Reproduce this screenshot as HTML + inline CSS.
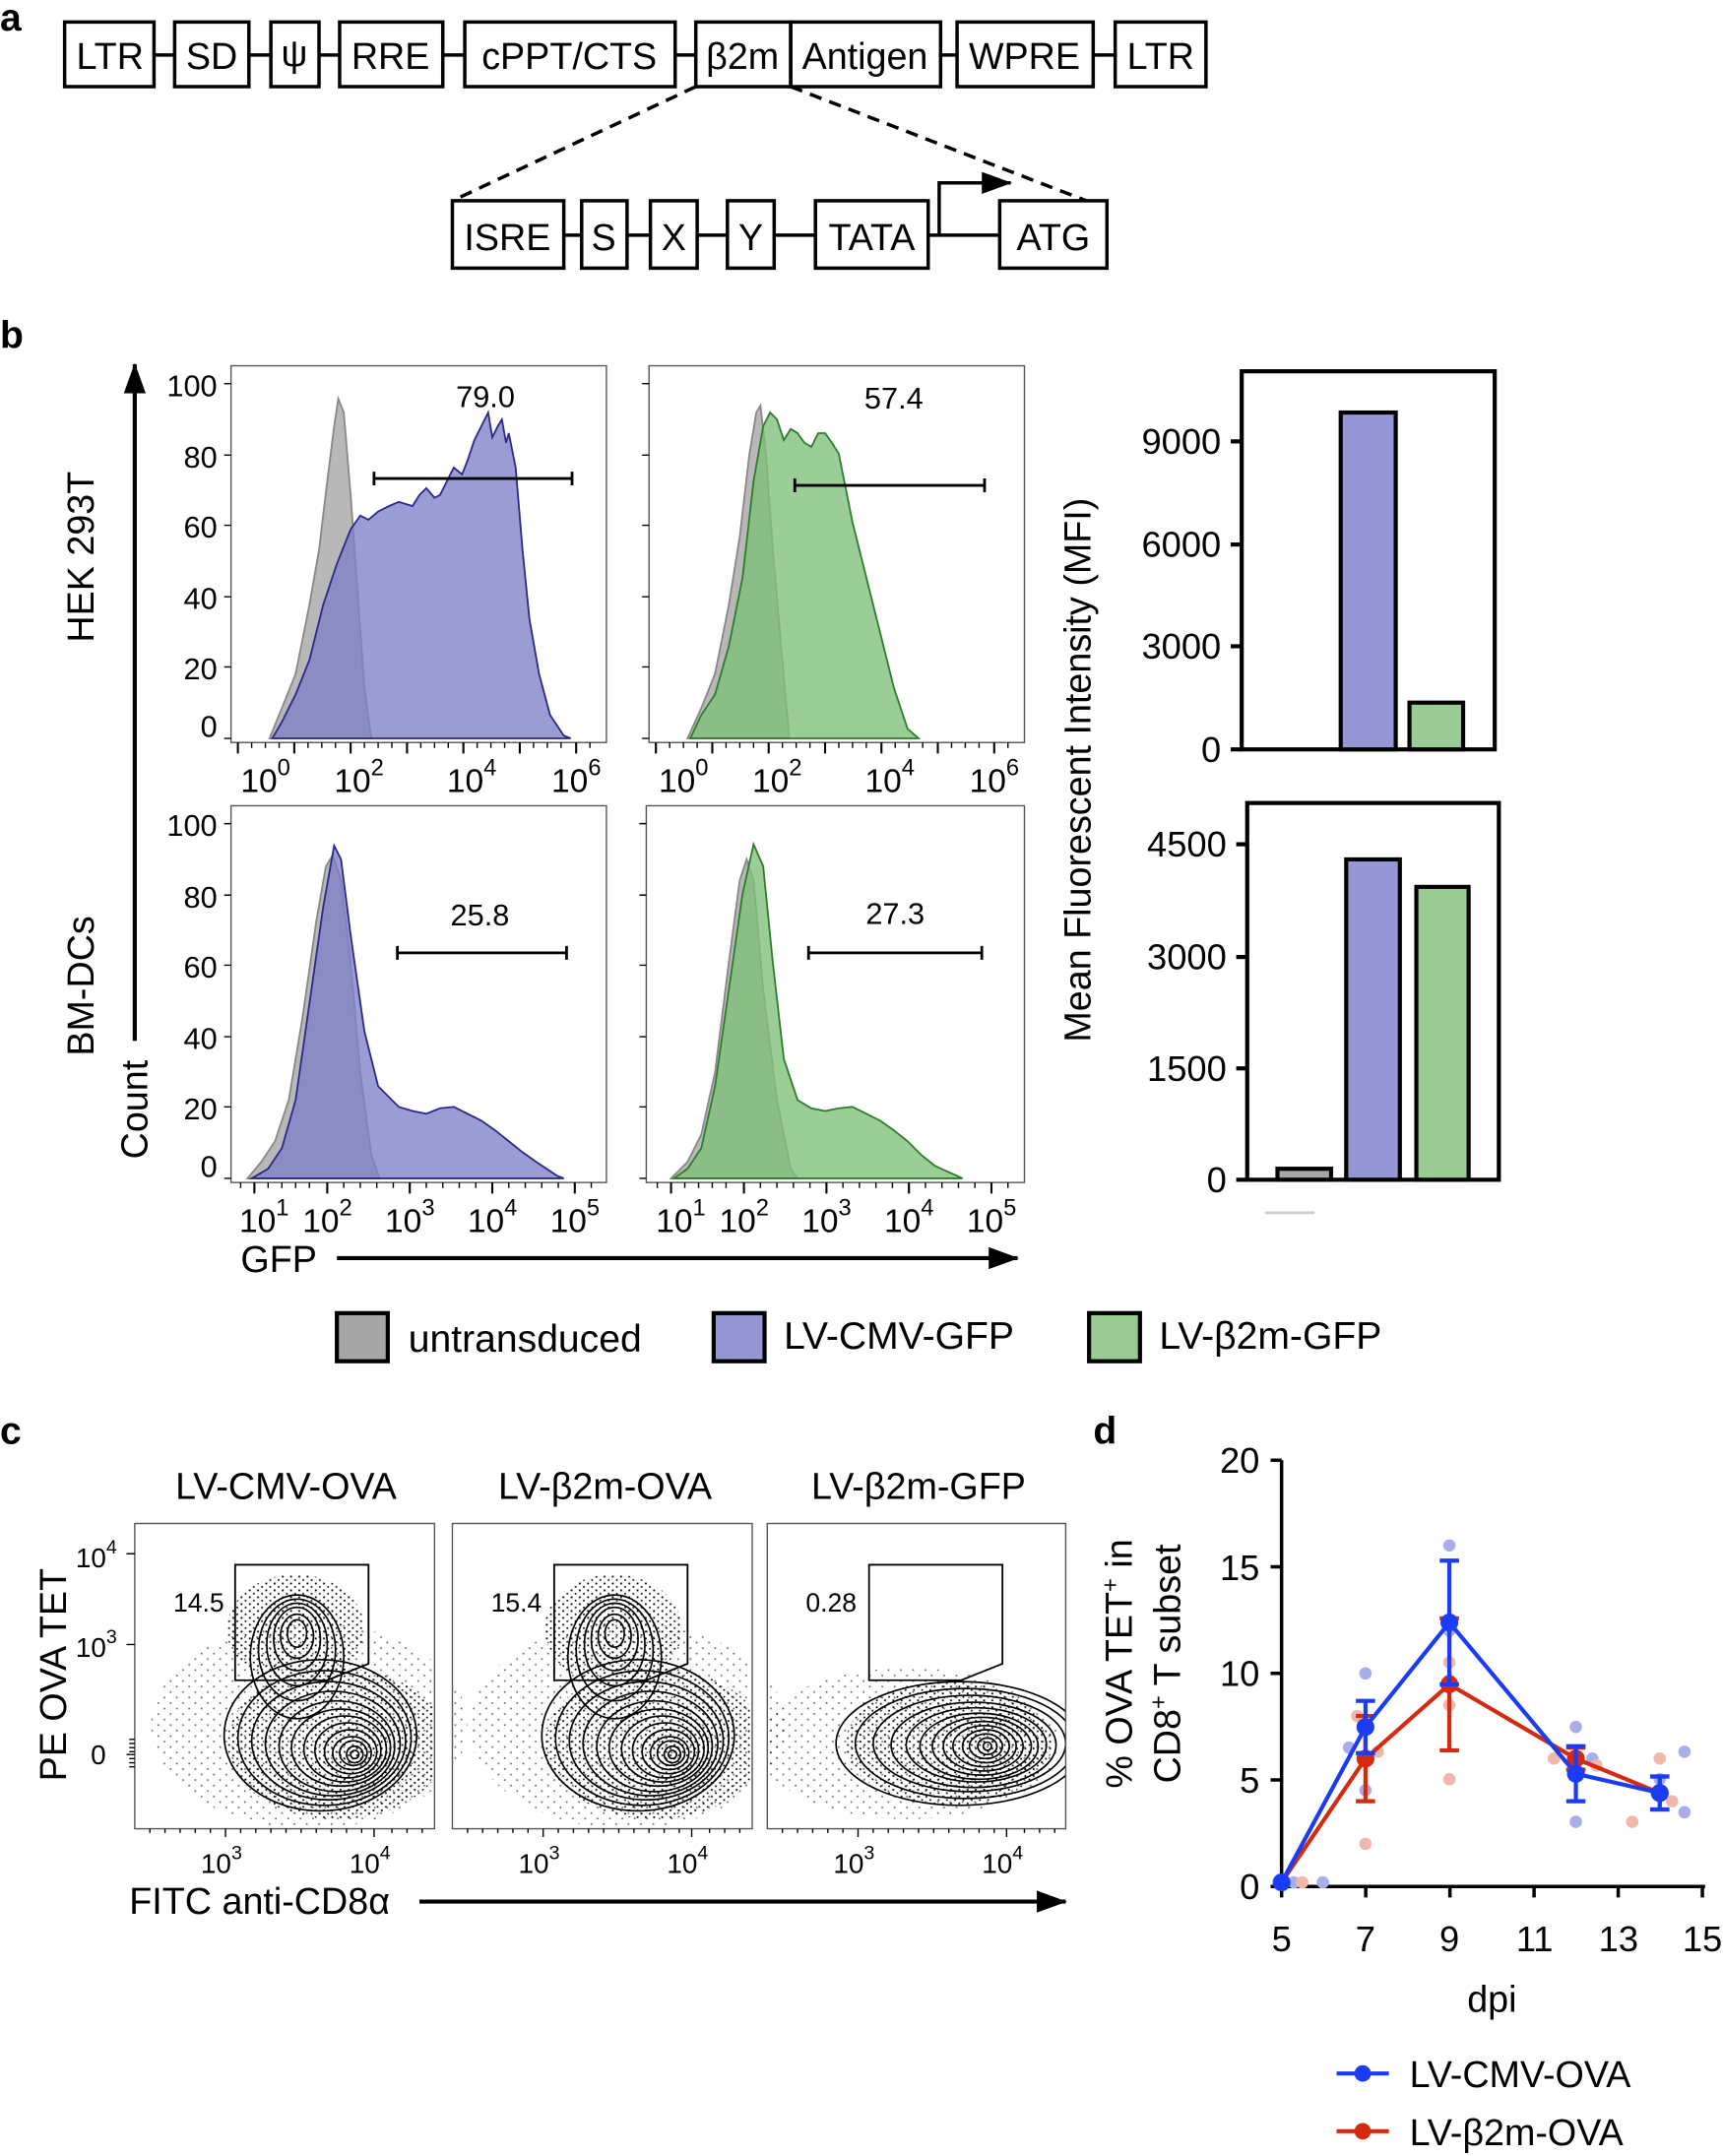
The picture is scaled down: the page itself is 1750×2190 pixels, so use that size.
<!DOCTYPE html>
<html><head><meta charset="utf-8">
<style>
html,body{margin:0;padding:0;background:#fff;}
svg{display:block;}
text{font-family:"Liberation Sans",sans-serif;fill:#000;}
</style></head>
<body>
<svg width="1750" height="2190" viewBox="0 0 1253 1568" xmlns="http://www.w3.org/2000/svg" xmlns:xlink="http://www.w3.org/1999/xlink">
<defs>
<marker id="ah2" markerWidth="22" markerHeight="16" refX="21" refY="8" orient="auto" markerUnits="userSpaceOnUse"><path d="M0,0 L22,8 L0,16 z" fill="#000"/></marker>
<pattern id="dots" width="6" height="5" patternUnits="userSpaceOnUse"><rect x="1" y="1" width="1.3" height="1.3" fill="#000"/><rect x="4" y="3.5" width="1.2" height="1.2" fill="#000"/></pattern>
<pattern id="dots2" width="9" height="8" patternUnits="userSpaceOnUse"><rect x="2" y="2" width="1.2" height="1.2" fill="#000"/><rect x="6.5" y="6" width="1.2" height="1.2" fill="#000"/></pattern>
<g id="cmain" fill="none" stroke="#000" stroke-width="1.2">
<ellipse cx="135" cy="1262" rx="70" ry="55"/><ellipse cx="138" cy="1264" rx="63" ry="49"/><ellipse cx="141" cy="1266" rx="56" ry="43"/><ellipse cx="144" cy="1268" rx="49" ry="38"/><ellipse cx="147" cy="1270" rx="42" ry="33"/><ellipse cx="150" cy="1271" rx="36" ry="28"/><ellipse cx="153" cy="1272" rx="30" ry="24"/><ellipse cx="155" cy="1273" rx="24" ry="20"/><ellipse cx="157" cy="1274" rx="19" ry="16"/><ellipse cx="158" cy="1275" rx="14" ry="12"/><ellipse cx="159" cy="1275" rx="10" ry="9"/><ellipse cx="160" cy="1276" rx="6" ry="6"/><ellipse cx="160" cy="1276" rx="3" ry="3"/>
</g>
<g id="clobe" fill="none" stroke="#000" stroke-width="1.2">
<ellipse cx="118" cy="1205" rx="34" ry="45"/><ellipse cx="118" cy="1200" rx="28" ry="37"/><ellipse cx="118" cy="1196" rx="22" ry="30"/><ellipse cx="118" cy="1192" rx="17" ry="23"/><ellipse cx="118" cy="1190" rx="12" ry="16"/><ellipse cx="118" cy="1188" rx="7" ry="10"/>
</g>
</defs>
<text x="0" y="22" font-size="28" font-weight="bold">a</text>
<g stroke="#000" stroke-width="2.5" fill="none">
<line x1="112" y1="40" x2="127" y2="40"/><line x1="181" y1="40" x2="197" y2="40"/><line x1="232" y1="40" x2="247" y2="40"/><line x1="322" y1="40" x2="338" y2="40"/><line x1="491" y1="40" x2="506" y2="40"/><line x1="684" y1="40" x2="696" y2="40"/><line x1="795" y1="40" x2="811" y2="40"/>
<rect x="47" y="16" width="65" height="47"/><rect x="127" y="16" width="54" height="47"/><rect x="197" y="16" width="35" height="47"/><rect x="247" y="16" width="75" height="47"/><rect x="338" y="16" width="153" height="47"/><rect x="506" y="16" width="69" height="47"/><rect x="575" y="16" width="109" height="47"/><rect x="696" y="16" width="99" height="47"/><rect x="811" y="16" width="66" height="47"/>
<line x1="410" y1="171" x2="423" y2="171"/><line x1="456" y1="171" x2="473" y2="171"/><line x1="507" y1="171" x2="529" y2="171"/><line x1="563" y1="171" x2="593" y2="171"/><line x1="675" y1="171" x2="727" y2="171"/>
<rect x="329" y="146" width="81" height="49"/><rect x="423" y="146" width="33" height="49"/><rect x="473" y="146" width="34" height="49"/><rect x="529" y="146" width="34" height="49"/><rect x="593" y="146" width="82" height="49"/><rect x="727" y="146" width="78" height="49"/>
<path d="M683,171 V133 H735" marker-end="url(#ah2)"/>
<line x1="506" y1="63" x2="329" y2="146" stroke-dasharray="9,6"/><line x1="575" y1="63" x2="790" y2="146" stroke-dasharray="9,6"/>
</g>
<g font-size="27" text-anchor="middle">
<text x="80" y="50">LTR</text><text x="154" y="50">SD</text><text x="214" y="48">ψ</text><text x="284" y="50">RRE</text><text x="414" y="50">cPPT/CTS</text><text x="540" y="50">β2m</text><text x="629" y="50">Antigen</text><text x="745" y="50">WPRE</text><text x="844" y="50">LTR</text>
<text x="369" y="182">ISRE</text><text x="439" y="182">S</text><text x="490" y="182">X</text><text x="546" y="182">Y</text><text x="634" y="182">TATA</text><text x="766" y="182">ATG</text>
</g>
<text x="0" y="253" font-size="28" font-weight="bold">b</text>
<!-- histograms -->
<g stroke-width="1.3">
<path d="M196,537 L205,515 L215,490 L225,440 L232,400 L238,350 L243,310 L246,290 L250,300 L255,360 L260,430 L265,500 L270,537 Z" fill="#b8b8b8" stroke="#888"/>
<path d="M198,537 L205,525 L215,505 L225,480 L235,440 L245,410 L255,385 L262,375 L268,378 L275,372 L283,368 L290,365 L300,368 L305,360 L310,355 L316,362 L320,360 L326,348 L330,340 L336,345 L340,335 L345,320 L350,310 L355,300 L358,318 L362,310 L365,305 L368,322 L370,315 L375,340 L380,400 L385,450 L392,490 L400,520 L410,535 L415,537 Z" fill="#7f80c8" fill-opacity="0.78" stroke="#2a2a8a"/>
<path d="M500,537 L510,515 L520,490 L530,440 L538,390 L545,330 L550,300 L553,295 L557,330 L562,400 L568,470 L574,537 Z" fill="#b8b8b8" stroke="#888"/>
<path d="M502,537 L510,520 L520,505 L530,470 L540,420 L548,350 L555,310 L560,300 L565,305 L570,320 L575,312 L580,315 L585,322 L590,325 L595,315 L600,315 L605,322 L610,330 L620,380 L630,420 L640,460 L650,500 L660,530 L668,537 Z" fill="#7fbf78" fill-opacity="0.78" stroke="#2e7d2b"/>
<path d="M180,857 L190,845 L200,830 L210,800 L220,740 L230,670 L237,630 L242,622 L248,640 L255,700 L262,780 L270,840 L276,857 Z" fill="#b8b8b8" stroke="#888"/>
<path d="M183,857 L195,850 L205,835 L215,800 L225,730 L235,660 L243,615 L248,625 L255,680 L265,750 L275,790 L290,805 L300,808 L310,810 L320,806 L330,805 L340,810 L350,815 L360,822 L370,830 L380,838 L390,845 L405,855 L410,857 Z" fill="#7f80c8" fill-opacity="0.78" stroke="#2a2a8a"/>
<path d="M488,857 L500,845 L510,825 L520,780 L530,700 L538,640 L543,625 L548,640 L555,720 L565,800 L575,850 L580,857 Z" fill="#b8b8b8" stroke="#888"/>
<path d="M490,857 L500,850 L510,835 L520,790 L530,720 L540,650 L548,614 L555,630 L562,700 L570,770 L580,800 L590,806 L600,808 L610,806 L620,805 L630,810 L640,815 L650,822 L660,830 L670,840 L680,848 L700,857 Z" fill="#7fbf78" fill-opacity="0.78" stroke="#2e7d2b"/>
</g>
<g fill="none" stroke="#555" stroke-width="1">
<rect x="168" y="266" width="273" height="274"/><rect x="472" y="266" width="273" height="274"/>
<rect x="168" y="586" width="273" height="274"/><rect x="470" y="586" width="275" height="274"/>
</g>
<g stroke="#000" stroke-width="2" fill="none">
<path d="M272,348 H416 M272,343 v10 M416,343 v10"/>
<path d="M578,353 H716 M578,348 v10 M716,348 v10"/>
<path d="M289,693 H412 M289,688 v10 M412,688 v10"/>
<path d="M588,693 H714 M588,688 v10 M714,688 v10"/>
</g>
<g font-size="22" text-anchor="middle"><text x="353" y="296">79.0</text><text x="650" y="297">57.4</text><text x="349" y="673">25.8</text><text x="651" y="672">27.3</text></g>
<!-- y ticks -->
<g stroke="#000" stroke-width="1">
<path d="M163,537h5M163,485h5M163,434h5M163,382h5M163,331h5M163,279h5"/>
<path d="M467,537h5M467,485h5M467,434h5M467,382h5M467,331h5M467,279h5"/>
<path d="M163,857h5M163,805h5M163,754h5M163,702h5M163,651h5M163,599h5"/>
<path d="M465,857h5M465,805h5M465,754h5M465,702h5M465,651h5M465,599h5"/>
<path d="M173,540v8M214,540v8M255,540v8M296,540v8M337,540v8M378,540v8M419,540v8M477,540v8M518,540v8M559,540v8M600,540v8M641,540v8M682,540v8M723,540v8" stroke-width="1.5"/>
<path d="M183,540v4M193,540v4M203,540v4M224,540v4M234,540v4M244,540v4M265,540v4M275,540v4M285,540v4M306,540v4M316,540v4M326,540v4M347,540v4M357,540v4M367,540v4M388,540v4M398,540v4M408,540v4M429,540v4"/>
<path d="M487,540v4M497,540v4M507,540v4M528,540v4M538,540v4M548,540v4M569,540v4M579,540v4M589,540v4M610,540v4M620,540v4M630,540v4M651,540v4M661,540v4M671,540v4M692,540v4M702,540v4M712,540v4M733,540v4"/>
<path d="M185,860v8M238,860v8M298,860v8M358,860v8M418,860v8M488,860v8M541,860v8M601,860v8M661,860v8M721,860v8" stroke-width="1.5"/>
<path d="M175,860v4M195,860v4M205,860v4M215,860v4M225,860v4M250,860v4M262,860v4M274,860v4M286,860v4M310,860v4M322,860v4M334,860v4M346,860v4M370,860v4M382,860v4M394,860v4M406,860v4M430,860v4"/>
<path d="M478,860v4M498,860v4M508,860v4M518,860v4M528,860v4M553,860v4M565,860v4M577,860v4M589,860v4M613,860v4M625,860v4M637,860v4M649,860v4M673,860v4M685,860v4M697,860v4M709,860v4M733,860v4"/>
</g>
<g font-size="22" text-anchor="end">
<text x="158" y="536">0</text><text x="158" y="494">20</text><text x="158" y="443">40</text><text x="158" y="391">60</text><text x="158" y="340">80</text><text x="158" y="288">100</text>
<text x="158" y="856">0</text><text x="158" y="814">20</text><text x="158" y="763">40</text><text x="158" y="711">60</text><text x="158" y="660">80</text><text x="158" y="608">100</text>
</g>
<g font-size="24">
<text x="175" y="576">10<tspan font-size="17" dy="-12">0</tspan></text>
<text x="243" y="576">10<tspan font-size="17" dy="-12">2</tspan></text>
<text x="325" y="576">10<tspan font-size="17" dy="-12">4</tspan></text>
<text x="401" y="576">10<tspan font-size="17" dy="-12">6</tspan></text>
<text x="479" y="576">10<tspan font-size="17" dy="-12">0</tspan></text>
<text x="547" y="576">10<tspan font-size="17" dy="-12">2</tspan></text>
<text x="629" y="576">10<tspan font-size="17" dy="-12">4</tspan></text>
<text x="705" y="576">10<tspan font-size="17" dy="-12">6</tspan></text>
<text x="174" y="896">10<tspan font-size="17" dy="-12">1</tspan></text>
<text x="220" y="896">10<tspan font-size="17" dy="-12">2</tspan></text>
<text x="280" y="896">10<tspan font-size="17" dy="-12">3</tspan></text>
<text x="340" y="896">10<tspan font-size="17" dy="-12">4</tspan></text>
<text x="400" y="896">10<tspan font-size="17" dy="-12">5</tspan></text>
<text x="477" y="896">10<tspan font-size="17" dy="-12">1</tspan></text>
<text x="523" y="896">10<tspan font-size="17" dy="-12">2</tspan></text>
<text x="583" y="896">10<tspan font-size="17" dy="-12">3</tspan></text>
<text x="643" y="896">10<tspan font-size="17" dy="-12">4</tspan></text>
<text x="703" y="896">10<tspan font-size="17" dy="-12">5</tspan></text>
</g>
<!-- bar charts -->
<g stroke="#000" stroke-width="3" fill="none">
<rect x="903" y="270" width="184" height="275"/>
<rect x="907" y="584" width="183" height="274"/>
</g>
<g stroke="#000" stroke-width="3">
<rect x="975" y="300" width="40" height="245" fill="#9596d4"/>
<rect x="1025" y="511" width="39" height="34" fill="#9bcb95"/>
<rect x="929" y="850" width="39" height="8" fill="#a6a6a6"/>
<rect x="979" y="625" width="39" height="233" fill="#9596d4"/>
<rect x="1030" y="645" width="38" height="213" fill="#9bcb95"/>
<line x1="895" y1="321" x2="903" y2="321"/><line x1="895" y1="396" x2="903" y2="396"/><line x1="895" y1="470" x2="903" y2="470"/><line x1="895" y1="545" x2="903" y2="545"/>
<line x1="899" y1="614" x2="907" y2="614"/><line x1="899" y1="696" x2="907" y2="696"/><line x1="899" y1="777" x2="907" y2="777"/><line x1="899" y1="858" x2="907" y2="858"/>
</g>
<line x1="920" y1="882" x2="956" y2="882" stroke="#ccc" stroke-width="2"/>
<g font-size="26" text-anchor="end">
<text x="888" y="330">9000</text><text x="888" y="405">6000</text><text x="888" y="479">3000</text><text x="888" y="554">0</text>
<text x="892" y="623">4500</text><text x="892" y="705">3000</text><text x="892" y="786">1500</text><text x="892" y="867">0</text>
</g>
<text transform="translate(793,560) rotate(-90)" font-size="27" text-anchor="middle">Mean Fluorescent Intensity (MFI)</text>
<text transform="translate(68,405) rotate(-90)" font-size="27" text-anchor="middle">HEK 293T</text>
<text transform="translate(68,717) rotate(-90)" font-size="27" text-anchor="middle">BM-DCs</text>
<text transform="translate(107,807) rotate(-90)" font-size="27" text-anchor="middle">Count</text>
<line x1="98" y1="757" x2="98" y2="265" stroke="#000" stroke-width="3" marker-end="url(#ah2)"/>
<text x="175" y="925" font-size="27">GFP</text>
<line x1="245" y1="915" x2="740" y2="915" stroke="#000" stroke-width="3" marker-end="url(#ah2)"/>
<g stroke="#000" stroke-width="3">
<rect x="245" y="955" width="37" height="35" fill="#a6a6a6"/><rect x="519" y="955" width="37" height="35" fill="#9596d4"/><rect x="792" y="955" width="37" height="35" fill="#9bcb95"/>
</g>
<g font-size="28"><text x="297" y="983">untransduced</text><text x="570" y="981">LV-CMV-GFP</text><text x="843" y="981">LV-β2m-GFP</text></g>
<!-- panel c -->
<text x="0" y="1050" font-size="28" font-weight="bold">c</text>
<g font-size="27" text-anchor="middle"><text x="208" y="1090">LV-CMV-OVA</text><text x="440" y="1090">LV-β2m-OVA</text><text x="668" y="1090">LV-β2m-GFP</text></g>
<!-- panel 1 -->
<ellipse cx="225" cy="1255" rx="115" ry="75" fill="url(#dots2)" fill-opacity="0.6"/>
<ellipse cx="215" cy="1185" rx="50" ry="40" fill="url(#dots)"/>
<ellipse cx="245" cy="1268" rx="80" ry="55" fill="url(#dots)"/>
<use xlink:href="#cmain" x="98"/><use xlink:href="#clobe" x="98"/>
<!-- panel 2 -->
<ellipse cx="456" cy="1255" rx="115" ry="75" fill="url(#dots2)" fill-opacity="0.6"/>
<ellipse cx="446" cy="1185" rx="50" ry="40" fill="url(#dots)"/>
<ellipse cx="476" cy="1268" rx="80" ry="55" fill="url(#dots)"/>
<use xlink:href="#cmain" x="329"/><use xlink:href="#clobe" x="329"/>
<!-- panel 3 -->
<ellipse cx="660" cy="1268" rx="110" ry="55" fill="url(#dots2)" fill-opacity="0.6"/>
<ellipse cx="690" cy="1268" rx="75" ry="45" fill="url(#dots)"/>
<g fill="none" stroke="#000" stroke-width="1.2">
<ellipse cx="698" cy="1268" rx="90" ry="45"/><ellipse cx="702" cy="1268" rx="80" ry="40"/><ellipse cx="705" cy="1268" rx="70" ry="35"/><ellipse cx="708" cy="1269" rx="60" ry="31"/><ellipse cx="710" cy="1269" rx="51" ry="27"/><ellipse cx="712" cy="1270" rx="43" ry="24"/><ellipse cx="714" cy="1270" rx="36" ry="21"/><ellipse cx="715" cy="1270" rx="29" ry="18"/><ellipse cx="716" cy="1270" rx="23" ry="15"/><ellipse cx="717" cy="1270" rx="17" ry="12"/><ellipse cx="717" cy="1270" rx="12" ry="9"/><ellipse cx="718" cy="1270" rx="7" ry="6"/><ellipse cx="718" cy="1270" rx="3" ry="3"/>
</g>
<g fill="#fff"><rect x="0" y="1100" width="98" height="240"/><rect x="316" y="1100" width="13" height="240"/><rect x="547" y="1100" width="11" height="240"/><rect x="775" y="1100" width="20" height="240"/><rect x="90" y="1330" width="700" height="8"/><rect x="90" y="1098" width="700" height="10"/></g>
<g fill="none" stroke="#000" stroke-width="1.3">
<path d="M171,1138 H268 V1210 L238,1222 H171 Z"/>
<path d="M403,1138 H500 V1210 L470,1222 H403 Z"/>
<path d="M632,1138 H729 V1210 L699,1222 H632 Z"/>
</g>
<g fill="none" stroke="#555" stroke-width="1">
<rect x="98" y="1108" width="218" height="222"/><rect x="329" y="1108" width="218" height="222"/><rect x="558" y="1108" width="217" height="222"/>
</g>
<g font-size="19"><text x="126" y="1172">14.5</text><text x="357" y="1172">15.4</text><text x="586" y="1172">0.28</text></g>
<g stroke="#000" stroke-width="1">
<path d="M109,1330v3M120,1330v3M131,1330v3M142,1330v3M153,1330v3M164,1330v6M175,1330v3M186,1330v3M197,1330v3M208,1330v3M219,1330v3M230,1330v3M241,1330v3M252,1330v3M263,1330v3M272,1330v6M285,1330v3M296,1330v3M307,1330v3"/>
<path d="M340,1330v3M351,1330v3M362,1330v3M373,1330v3M384,1330v3M395,1330v6M406,1330v3M417,1330v3M428,1330v3M439,1330v3M450,1330v3M461,1330v3M472,1330v3M483,1330v3M494,1330v3M503,1330v6M516,1330v3M527,1330v3M538,1330v3"/>
<path d="M569,1330v3M580,1330v3M591,1330v3M602,1330v3M613,1330v3M624,1330v6M635,1330v3M646,1330v3M657,1330v3M668,1330v3M679,1330v3M690,1330v3M701,1330v3M712,1330v3M723,1330v3M732,1330v6M745,1330v3M756,1330v3M767,1330v3"/>
<path d="M92,1130h6M92,1196h6M92,1276h6M94,1265h4M94,1268h4M94,1271h4M94,1274h4M94,1279h4M94,1282h4M94,1285h4"/>
</g>
<g font-size="20">
<text x="146" y="1362">10<tspan font-size="14" dy="-10">3</tspan></text><text x="254" y="1362">10<tspan font-size="14" dy="-10">4</tspan></text>
<text x="377" y="1362">10<tspan font-size="14" dy="-10">3</tspan></text><text x="485" y="1362">10<tspan font-size="14" dy="-10">4</tspan></text>
<text x="606" y="1362">10<tspan font-size="14" dy="-10">3</tspan></text><text x="714" y="1362">10<tspan font-size="14" dy="-10">4</tspan></text>
<text x="55" y="1140">10<tspan font-size="14" dy="-10">4</tspan></text><text x="55" y="1205">10<tspan font-size="14" dy="-10">3</tspan></text><text x="66" y="1283">0</text>
</g>
<text transform="translate(48,1218) rotate(-90)" font-size="27" text-anchor="middle">PE OVA TET</text>
<text x="94" y="1392" font-size="27">FITC anti-CD8α</text>
<line x1="305" y1="1383" x2="775" y2="1383" stroke="#000" stroke-width="3" marker-end="url(#ah2)"/>
<!-- panel d -->
<text x="795" y="1050" font-size="28" font-weight="bold">d</text>
<path d="M932,1062 V1372 H1240" stroke="#000" stroke-width="2.5" fill="none"/>
<g stroke="#000" stroke-width="2.5">
<path d="M924,1372h8M924,1294.5h8M924,1217h8M924,1139.5h8M924,1062h8"/>
<path d="M932,1372v8M993.2,1372v8M1054.4,1372v8M1115.6,1372v8M1176.8,1372v8M1238,1372v8"/>
</g>
<g font-size="26" text-anchor="end"><text x="916" y="1381">0</text><text x="916" y="1304">5</text><text x="916" y="1226">10</text><text x="916" y="1149">15</text><text x="916" y="1071">20</text></g>
<g font-size="26" text-anchor="middle"><text x="932" y="1419">5</text><text x="993" y="1419">7</text><text x="1054" y="1419">9</text><text x="1116" y="1419">11</text><text x="1177" y="1419">13</text><text x="1238" y="1419">15</text></g>
<g fill="#a8aee8">
<circle cx="941" cy="1369" r="4.5"/><circle cx="962" cy="1369" r="4.5"/><circle cx="981" cy="1271" r="4.5"/><circle cx="993" cy="1217" r="4.5"/><circle cx="993" cy="1302" r="4.5"/><circle cx="1054" cy="1124" r="4.5"/><circle cx="1054" cy="1186" r="4.5"/><circle cx="1054" cy="1222" r="4.5"/><circle cx="1146" cy="1256" r="4.5"/><circle cx="1146" cy="1325" r="4.5"/><circle cx="1158" cy="1279" r="4.5"/><circle cx="1207" cy="1294" r="4.5"/><circle cx="1225" cy="1274" r="4.5"/><circle cx="1225" cy="1318" r="4.5"/>
</g>
<g fill="#f0b8a8">
<circle cx="947" cy="1369" r="4.5"/><circle cx="987" cy="1248" r="4.5"/><circle cx="993" cy="1341" r="4.5"/><circle cx="1002" cy="1274" r="4.5"/><circle cx="1054" cy="1209" r="4.5"/><circle cx="1054" cy="1294" r="4.5"/><circle cx="1054" cy="1240" r="4.5"/><circle cx="1130" cy="1279" r="4.5"/><circle cx="1161" cy="1284" r="4.5"/><circle cx="1187" cy="1325" r="4.5"/><circle cx="1207" cy="1279" r="4.5"/><circle cx="1216" cy="1310" r="4.5"/>
</g>
<g stroke="#d42a10" stroke-width="3" fill="none">
<path d="M932,1369 L993,1279 L1054,1225 L1146,1279 L1207,1304"/>
<path d="M993,1248V1310M986,1248h14M986,1310h14 M1054,1177V1273M1047,1177h14M1047,1273h14 M1146,1271V1287M1139,1271h14M1139,1287h14 M1207,1292V1316M1200,1292h14M1200,1316h14"/>
</g>
<g fill="#d42a10"><circle cx="993" cy="1279" r="6.5"/><circle cx="1054" cy="1225" r="6.5"/><circle cx="1146" cy="1279" r="6.5"/><circle cx="1207" cy="1304" r="6.5"/></g>
<g stroke="#1a3cf5" stroke-width="3" fill="none">
<path d="M932,1369 L993,1256 L1054,1180 L1146,1290 L1207,1304"/>
<path d="M993,1237V1275M986,1237h14M986,1275h14 M1054,1135V1225M1047,1135h14M1047,1225h14 M1146,1270V1310M1139,1270h14M1139,1310h14 M1207,1292V1316M1200,1292h14M1200,1316h14"/>
</g>
<g fill="#1a3cf5"><circle cx="932" cy="1369" r="6.5"/><circle cx="993" cy="1256" r="6.5"/><circle cx="1054" cy="1180" r="6.5"/><circle cx="1146" cy="1290" r="6.5"/><circle cx="1207" cy="1304" r="6.5"/></g>
<text transform="translate(823,1210) rotate(-90)" font-size="27" text-anchor="middle">% OVA TET<tspan font-size="17" dy="-10">+</tspan><tspan dy="10"> in</tspan></text>
<text transform="translate(858,1210) rotate(-90)" font-size="27" text-anchor="middle">CD8<tspan font-size="17" dy="-10">+</tspan><tspan dy="10"> T subset</tspan></text>
<text x="1085" y="1463" font-size="27" text-anchor="middle">dpi</text>
<line x1="972" y1="1508" x2="1010" y2="1508" stroke="#1a3cf5" stroke-width="3"/><circle cx="991" cy="1508" r="6" fill="#1a3cf5"/>
<line x1="972" y1="1550" x2="1010" y2="1550" stroke="#d42a10" stroke-width="3"/><circle cx="991" cy="1550" r="6" fill="#d42a10"/>
<text x="1025" y="1518" font-size="27">LV-CMV-OVA</text><text x="1025" y="1560" font-size="27">LV-β2m-OVA</text>
</svg>
</body></html>
